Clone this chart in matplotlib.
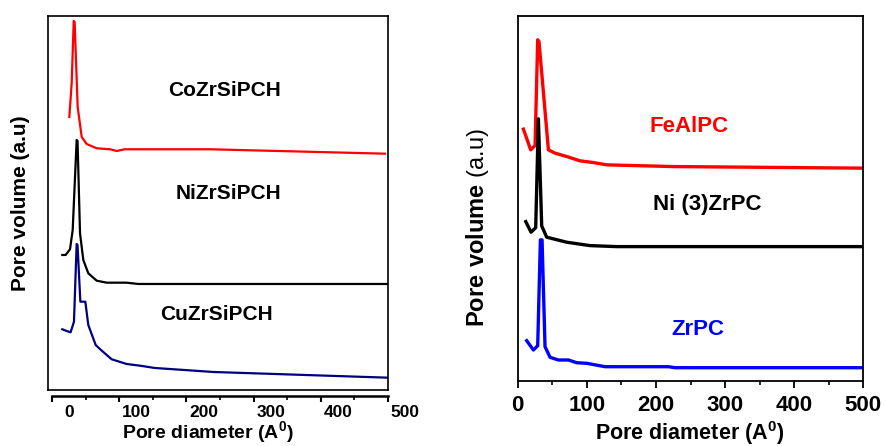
"""
Pore size distribution of the heterostructures (left) and the PC series (right).
Two panels side by side, curves are offset vertically (arbitrary units).
"""

import matplotlib
matplotlib.use("Agg")
import matplotlib.pyplot as plt
import matplotlib.transforms as mtransforms
from matplotlib.ticker import MultipleLocator

plt.rcParams["font.family"] = ["Liberation Sans", "DejaVu Sans"]
plt.rcParams["mathtext.fontset"] = "custom"
plt.rcParams["mathtext.rm"] = "Liberation Sans"
plt.rcParams["mathtext.bf"] = "Liberation Sans:bold"

# ---- left panel: SiPCH samples (pore diameter in A, pore volume a.u.) ----
co_x = [25.8, 29.3, 32.3, 33.7, 38.2, 44.2, 51.6, 66.5, 86.3, 96.3, 108.6, 235, 495.5]
co_y = [273, 307, 369, 368, 283, 253, 246, 241.7, 240.7, 239, 240.7, 240.7, 236.3]

ni_x = [15.3, 20.3, 26.8, 30.8, 36.7, 38.0, 41.7, 46.6, 54, 66.5, 81.4, 111, 128.5, 500]
ni_y = [135, 135, 140.7, 160, 250, 249, 156.7, 130, 116.7, 109.3, 107.3, 107.3, 106, 106]

cu_x = [15.3, 21.8, 27.7, 32.7, 36.7, 38.0, 42.2, 45.6, 49.6, 54, 65, 72.9, 88.8,
        111, 131, 153, 240, 500]
cu_y = [60.7, 59, 57.7, 68.3, 146, 145, 88.3, 88.3, 88.3, 65, 45, 40, 30.7,
        26, 24.3, 22, 18, 12.3]

# ---- right panel: PC samples ----
fe_x = [8.2, 18.8, 25.1, 28.9, 30.8, 44.4, 54, 70.9, 90.2, 109.5, 128.7, 225, 500]
fe_y = [251.7, 231, 235.3, 341, 339, 231, 227.7, 224.3, 220, 218.3, 216, 214.3, 212.7]

ni3_x = [11.6, 19.3, 26, 29.9, 34.7, 41.9, 70.9, 104.6, 143.2, 500]
ni3_y = [159.3, 148.7, 153.3, 262, 155, 143.7, 138.7, 135.3, 134.3, 134.3]

zr_x = [13, 22.7, 28.9, 32.8, 35.2, 39.5, 46.8, 58.8, 73.3, 85.3, 99.8, 126.3, 218, 227.6, 500]
zr_y = [40.3, 31, 35.3, 141, 141, 34.3, 23.7, 21, 21, 18.3, 17.7, 14.3, 14.3, 13.3, 13.3]

left_names = ["CoZrSiPCH", "NiZrSiPCH", "CuZrSiPCH"]
right_names = ["FeAlPC", "Ni (3)ZrPC", "ZrPC"]
xticks = [0, 100, 200, 300, 400, 500]

fig = plt.figure(figsize=(8.85, 4.46), dpi=100)

# left panel: closed frame plus a detached x axis slightly below it
ax1 = fig.add_axes([0.0542, 0.1256, 0.3842, 0.8386])
ax1.plot(co_x, co_y, color="#ff0000", lw=1.6)
ax1.plot(ni_x, ni_y, color="black", lw=1.6)
ax1.plot(cu_x, cu_y, color="#000080", lw=1.6)
ax1.set_xlim(-6, 500)
ax1.set_ylim(0, 374)
ax1.spines["bottom"].set_position(("outward", 4))
ax1.spines["bottom"].set_bounds(0, 500)
ax1.spines["bottom"].set_linewidth(1.8)
for s in ["left", "right", "top"]:
    ax1.spines[s].set_linewidth(1.2)
ax1.plot([0, 1], [0, 0], transform=ax1.transAxes, color="black", lw=1.2, clip_on=False)
ax1.set_yticks([])
ax1.set_xticks(xticks)
ax1.xaxis.set_minor_locator(MultipleLocator(50))
ax1.tick_params(axis="x", which="major", direction="out", length=4, width=1.5,
                labelsize=12.5, pad=3)
ax1.tick_params(axis="x", which="minor", direction="out", length=3, width=1.2)
for lbl in ax1.get_xticklabels():
    lbl.set_fontweight("bold")
    # labels in the original sit off to the right of their ticks
    lbl.set_transform(lbl.get_transform() +
                      mtransforms.ScaledTranslation(0.17, 0, fig.dpi_scale_trans))
ax1.set_xlabel(r"Pore diameter (A$^{\mathbf{0}}$)", fontsize=14, fontweight="bold", va="center")
ax1.xaxis.set_label_coords(0.47, -0.113)
ax1.set_ylabel("Pore volume (a.u)", fontsize=15, fontweight="bold", va="center")
ax1.yaxis.set_label_coords(-0.08, 0.5)
ax1.text(257, 299, left_names[0], fontsize=15, fontweight="bold", ha="center", va="center")
ax1.text(263, 196, left_names[1], fontsize=15, fontweight="bold", ha="center", va="center")
ax1.text(245, 75, left_names[2], fontsize=15, fontweight="bold", ha="center", va="center")

# right panel
ax2 = fig.add_axes([0.585, 0.1457, 0.3905, 0.819])
ax2.plot(fe_x, fe_y, color="#ff0000", lw=2.4)
ax2.plot(ni3_x, ni3_y, color="black", lw=2.4)
ax2.plot(zr_x, zr_y, color="#0000ff", lw=2.4)
ax2.set_xlim(0, 500)
ax2.set_ylim(0, 365)
for s in ax2.spines.values():
    s.set_linewidth(1.3)
ax2.set_yticks([])
ax2.set_xticks(xticks)
ax2.xaxis.set_minor_locator(MultipleLocator(50))
ax2.tick_params(axis="x", which="major", direction="out", length=5, width=1.3,
                labelsize=16, pad=5)
ax2.tick_params(axis="x", which="minor", direction="out", length=3, width=1.2)
for lbl in ax2.get_xticklabels():
    lbl.set_fontweight("bold")
ax2.set_xlabel(r"Pore diameter (A$^{\mathbf{0}}$)", fontsize=15.5, fontweight="bold", va="center")
ax2.xaxis.set_label_coords(0.496, -0.142)
ax2.set_ylabel(r"$\mathbf{Pore\ volume}$ (a.u)", fontsize=17, va="center")
ax2.yaxis.set_label_coords(-0.115, 0.42)
ax2.text(248, 254, right_names[0], color="#ff0000", fontsize=16,
         fontweight="bold", ha="center", va="center")
ax2.text(274, 176, right_names[1], color="black", fontsize=16,
         fontweight="bold", ha="center", va="center")
ax2.text(261, 51, right_names[2], color="#0000ff", fontsize=16,
         fontweight="bold", ha="center", va="center")

fig.savefig("out.png", dpi=100)
